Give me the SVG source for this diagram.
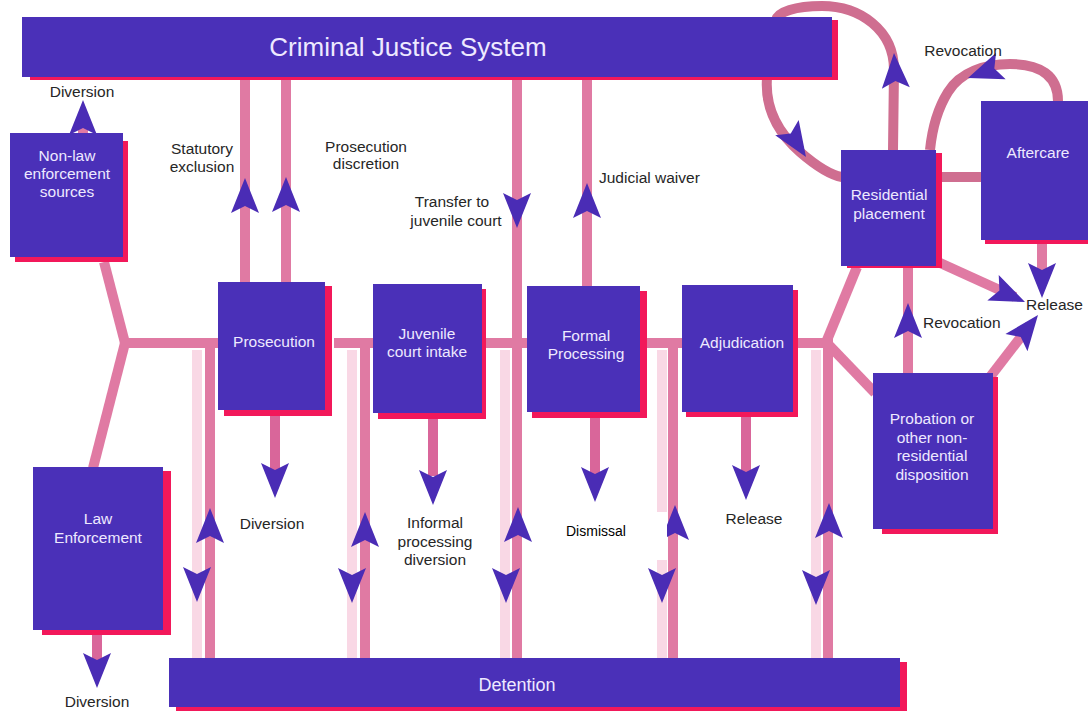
<svg xmlns="http://www.w3.org/2000/svg" xmlns:xlink="http://www.w3.org/1999/xlink" width="1088" height="711" viewBox="0 0 1088 711">
<style>
.box{fill:#4a30b8}
.sh{fill:#f2185a}
.ln{stroke:#e07aa3;stroke-width:10;fill:none}
.lt{stroke:#f9d8e5;stroke-width:10;fill:none}
.dk{stroke:#d9669a;stroke-width:10;fill:none}
.lp{stroke:#cf6e90;stroke-width:10;fill:none}
.ah{fill:#4a2cb5}
.lbl{font-family:"Liberation Sans",Arial,sans-serif;font-size:15.5px;fill:#262626;text-anchor:middle}
.bt{font-family:"Liberation Sans",Arial,sans-serif;font-size:15.5px;fill:#eee9ff;text-anchor:middle}
</style>
<defs>
<path id="ah" d="M0,0 L14,35 L0,28 L-14,35 Z"/>
</defs>
<rect width="1088" height="711" fill="#ffffff"/>
<g id="connectors">
<!-- loops -->
<path class="lp" d="M767,78 C765,105 775,130 800,152 C815,165 830,175 842,177"/>
<path class="lp" d="M893,150 L894,70 C894,30 860,6 822,6 C795,6 778,12 776,20"/>
<path class="lp" d="M1058,101 C1058,75 1040,64 1010,64 C985,64 960,72 948,92 C938,108 932,130 930,150"/>
<line class="lp" x1="936" y1="177" x2="982" y2="177"/>
<!-- light parallels -->
<line class="lt" x1="197" y1="350" x2="197" y2="658"/>
<line class="lt" x1="352" y1="350" x2="352" y2="658"/>
<line class="lt" x1="505" y1="350" x2="505" y2="658"/>
<line class="lt" x1="662" y1="350" x2="662" y2="658"/>
<line class="lt" x1="816" y1="350" x2="816" y2="658"/>
<!-- main lines -->
<line class="ln" x1="104" y1="262" x2="125" y2="343"/>
<line class="ln" x1="125" y1="343" x2="93" y2="468"/>
<line class="ln" x1="122" y1="343" x2="220" y2="343"/>
<line class="ln" x1="334" y1="343" x2="374" y2="343"/>
<line class="ln" x1="486" y1="343" x2="528" y2="343"/>
<line class="ln" x1="647" y1="343" x2="683" y2="343"/>
<line class="ln" x1="798" y1="343" x2="828" y2="343"/>
<line class="ln" x1="825" y1="345" x2="857" y2="267"/>
<line class="ln" x1="825" y1="341" x2="875" y2="393"/>
<line class="ln" x1="210" y1="338" x2="210" y2="658"/>
<line class="ln" x1="365" y1="338" x2="365" y2="658"/>
<line class="ln" x1="517" y1="78" x2="517" y2="658"/>
<line class="ln" x1="673" y1="338" x2="673" y2="658"/>
<line class="ln" x1="828" y1="338" x2="828" y2="658"/>
<line class="ln" x1="245" y1="78" x2="245" y2="284"/>
<line class="ln" x1="286" y1="78" x2="286" y2="284"/>
<line class="ln" x1="587" y1="78" x2="587" y2="288"/>
<line class="ln" x1="83" y1="134" x2="83" y2="120"/>
<line class="ln" x1="908" y1="374" x2="908" y2="266"/>
<line class="ln" x1="938" y1="262" x2="1015" y2="297"/>
<line class="ln" x1="990" y1="377" x2="1030" y2="325"/>
<line class="ln" x1="1042" y1="243" x2="1042" y2="272"/>
<!-- down stubs -->
<line class="dk" x1="97" y1="634" x2="97" y2="660"/>
<line class="dk" x1="275" y1="415" x2="275" y2="472"/>
<line class="dk" x1="433" y1="418" x2="433" y2="476"/>
<line class="dk" x1="595" y1="417" x2="595" y2="478"/>
<line class="dk" x1="746" y1="416" x2="746" y2="473"/>
<!-- arrowheads -->
<g class="ah">
<use xlink:href="#ah" transform="translate(83,100)"/>
<use xlink:href="#ah" transform="translate(97,688) rotate(180)"/>
<use xlink:href="#ah" transform="translate(245,178)"/>
<use xlink:href="#ah" transform="translate(286,177)"/>
<use xlink:href="#ah" transform="translate(517,228) rotate(180)"/>
<use xlink:href="#ah" transform="translate(587,183)"/>
<use xlink:href="#ah" transform="translate(275,498) rotate(180)"/>
<use xlink:href="#ah" transform="translate(433,505) rotate(180)"/>
<use xlink:href="#ah" transform="translate(595,502) rotate(180)"/>
<use xlink:href="#ah" transform="translate(746,500) rotate(180)"/>
<use xlink:href="#ah" transform="translate(210,508)"/>
<use xlink:href="#ah" transform="translate(197,602) rotate(180)"/>
<use xlink:href="#ah" transform="translate(365,512)"/>
<use xlink:href="#ah" transform="translate(352,603) rotate(180)"/>
<use xlink:href="#ah" transform="translate(518,507)"/>
<use xlink:href="#ah" transform="translate(506,603) rotate(180)"/>
<use xlink:href="#ah" transform="translate(675,505)"/>
<use xlink:href="#ah" transform="translate(662,603) rotate(180)"/>
<use xlink:href="#ah" transform="translate(829,503)"/>
<use xlink:href="#ah" transform="translate(816,605) rotate(180)"/>
<use xlink:href="#ah" transform="translate(806,157) rotate(147)"/>
<use xlink:href="#ah" transform="translate(894,53) rotate(-3)"/>
<use xlink:href="#ah" transform="translate(968,78) rotate(-110)"/>
<use xlink:href="#ah" transform="translate(1025,302) rotate(114)"/>
<use xlink:href="#ah" transform="translate(1042,298) rotate(180)"/>
<use xlink:href="#ah" transform="translate(1038,315) rotate(38)"/>
<use xlink:href="#ah" transform="translate(908,303)"/>
</g>
</g>
<g id="cjs">
<rect class="sh" x="30" y="20" width="808" height="60"/>
<rect class="box" x="22" y="17" width="810" height="60"/>
<text class="bt" x="408" y="56" style="font-size:26px">Criminal Justice System</text>
</g>
<g id="nonlaw">
<rect class="sh" x="15" y="141" width="113" height="121"/>
<rect class="box" x="10" y="133" width="113" height="124"/>
<text class="bt" x="67" y="161">Non-law</text>
<text class="bt" x="67" y="179">enforcement</text>
<text class="bt" x="67" y="197">sources</text>
</g>
<g id="law">
<rect class="sh" x="42" y="471" width="129" height="164"/>
<rect class="box" x="33" y="467" width="130" height="163"/>
<text class="bt" x="98" y="524">Law</text>
<text class="bt" x="98" y="543">Enforcement</text>
</g>
<g id="prosecution">
<rect class="sh" x="224" y="286" width="108" height="130"/>
<rect class="box" x="218" y="282" width="107" height="128"/>
<text class="bt" x="274" y="347">Prosecution</text>
</g>
<g id="juvenile">
<rect class="sh" x="378" y="289" width="108" height="130"/>
<rect class="box" x="373" y="284" width="109" height="129"/>
<text class="bt" x="427" y="339">Juvenile</text>
<text class="bt" x="427" y="357">court intake</text>
</g>
<g id="formal">
<rect class="sh" x="532" y="291" width="115" height="127"/>
<rect class="box" x="527" y="286" width="113" height="126"/>
<text class="bt" x="586" y="341">Formal</text>
<text class="bt" x="586" y="359">Processing</text>
</g>
<g id="adjudication">
<rect class="sh" x="686" y="290" width="112" height="127"/>
<rect class="box" x="682" y="285" width="111" height="127"/>
<text class="bt" x="742" y="348">Adjudication</text>
</g>
<g id="residential">
<rect class="sh" x="847" y="153" width="95" height="115"/>
<rect class="box" x="841" y="150" width="95" height="116"/>
<text class="bt" x="889" y="200">Residential</text>
<text class="bt" x="889" y="219">placement</text>
</g>
<g id="aftercare">
<rect class="sh" x="985" y="105" width="110" height="139"/>
<rect class="box" x="981" y="101" width="110" height="139"/>
<text class="bt" x="1038" y="158">Aftercare</text>
</g>
<g id="probation">
<rect class="sh" x="882" y="377" width="116" height="157"/>
<rect class="box" x="873" y="373" width="120" height="156"/>
<text class="bt" x="932" y="424">Probation or</text>
<text class="bt" x="932" y="443">other non-</text>
<text class="bt" x="932" y="461">residential</text>
<text class="bt" x="932" y="480">disposition</text>
</g>
<g id="detention">
<rect class="sh" x="176" y="662" width="731" height="49"/>
<rect class="box" x="169" y="658" width="731" height="49"/>
<text class="bt" x="517" y="691" style="font-size:18px">Detention</text>
</g>
<g id="labels">
<text class="lbl" x="82" y="97">Diversion</text>
<text class="lbl" x="202" y="154">Statutory</text>
<text class="lbl" x="202" y="172">exclusion</text>
<text class="lbl" x="366" y="152">Prosecution</text>
<text class="lbl" x="366" y="169">discretion</text>
<text class="lbl" x="452" y="207">Transfer to</text>
<text class="lbl" x="456" y="226">juvenile court</text>
<text class="lbl" x="599" y="183" style="text-anchor:start">Judicial waiver</text>
<text class="lbl" x="963" y="56">Revocation</text>
<text class="lbl" x="1026" y="310" style="text-anchor:start">Release</text>
<text class="lbl" x="923" y="328" style="text-anchor:start">Revocation</text>
<text class="lbl" x="272" y="529">Diversion</text>
<text class="lbl" x="435" y="528">Informal</text>
<text class="lbl" x="435" y="547">processing</text>
<text class="lbl" x="435" y="565">diversion</text>
<text class="lbl" x="754" y="524">Release</text>
<text class="lbl" x="97" y="707">Diversion</text>
<rect x="547" y="512" width="120" height="48" fill="#ffffff"/>
<text x="566" y="536" style="font-family:'Liberation Sans',Arial,sans-serif;font-size:14px;fill:#000">Dismissal</text>
</g>
</svg>
